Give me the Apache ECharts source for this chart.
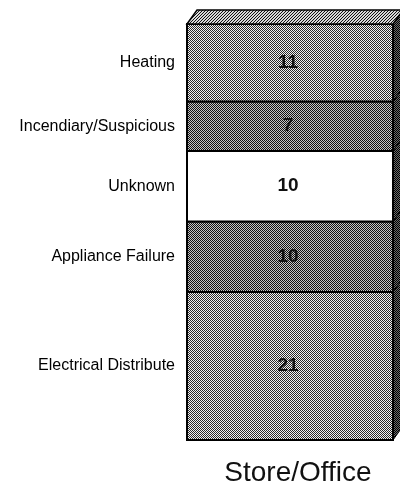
<!DOCTYPE html>
<html>
<head>
<meta charset="utf-8">
<script src="https://cdn.jsdelivr.net/npm/echarts@6/dist/echarts.min.js"></script>
<style>
  html, body { margin: 0; padding: 0; background: #fff; }
  #chart { width: 400px; height: 491px; }
</style>
</head>
<body>
<div id="chart"></div>
<script>
// bottom to top
var categories = ['Store/Office'];
var causes = ['Electrical Distribute', 'Appliance Failure', 'Unknown', 'Incendiary/Suspicious', 'Heating'];
var counts = [21, 10, 10, 7, 11];

// halftone tiles (two grays in a checker)
function dots(a, b) {
  var c = document.createElement('canvas');
  c.width = 2; c.height = 2;
  var g = c.getContext('2d');
  g.fillStyle = b; g.fillRect(0, 0, 2, 2);
  g.fillStyle = a; g.fillRect(0, 0, 1, 1); g.fillRect(1, 1, 1, 1);
  return { image: c, repeat: 'repeat' };
}
function hatch() {
  var c = document.createElement('canvas');
  c.width = 3; c.height = 3;
  var g = c.getContext('2d');
  g.fillStyle = '#d8d8d8'; g.fillRect(0, 0, 3, 3);
  g.fillStyle = '#111';
  g.fillRect(2, 0, 1, 1); g.fillRect(1, 1, 1, 1); g.fillRect(0, 2, 1, 1);
  return { image: c, repeat: 'repeat' };
}
var light = dots('#2a2a2a', '#f2f2f2');
var dark = dots('#111', '#c4c4c4');
var fills = [light, dark, '#fff', dark, light];
var sideFill = dots('#000', '#6a6a6a');
var topFill = hatch();

// stacked ranges
var segs = [];
var acc = 0;
for (var i = 0; i < counts.length; i++) {
  segs.push([0, acc, acc + counts[i]]);
  acc += counts[i];
}

var chart = echarts.init(document.getElementById('chart'));
chart.setOption({
  animation: false,
  grid: { left: 187, right: 7, top: 24, bottom: 51 },
  xAxis: {
    type: 'category',
    data: categories,
    axisLine: { show: false },
    axisTick: { show: false },
    axisLabel: {
      fontSize: 28,
      fontFamily: 'Liberation Sans',
      color: '#111',
      margin: 19,
      padding: [0, 0, 0, 16]
    }
  },
  yAxis: { type: 'value', min: 0, max: acc, show: false },
  series: [{
    type: 'custom',
    clip: false,
    data: segs,
    renderItem: function (params, api) {
      var i = params.dataIndex;
      var lo = api.coord([0, api.value(1)]);
      var hi = api.coord([0, api.value(2)]);
      var w = api.size([1, 0])[0];
      var x1 = lo[0] - w / 2, x2 = lo[0] + w / 2;
      var yB = lo[1], yT = hi[1];
      var dx = 10, dy = 14;
      var kids = [
        { type: 'polygon', shape: { points: [[x2, yT], [x2 + dx, yT - dy], [x2 + dx, yB - dy], [x2, yB]] },
          style: { fill: sideFill, stroke: '#000', lineWidth: 1 } },
        { type: 'rect', shape: { x: x1, y: yT, width: w, height: yB - yT },
          style: { fill: fills[i], stroke: '#000', lineWidth: 2 } },
        { type: 'text', x: lo[0] - 2, y: (yT + yB) / 2,
          style: { text: String(counts[i]), align: 'center', verticalAlign: 'middle',
                   font: 'bold 19px "Liberation Sans"', fill: '#111' } },
        { type: 'text', x: x1 - 12, y: (yT + yB) / 2,
          style: { text: causes[i], align: 'right', verticalAlign: 'middle',
                   font: '16px "Liberation Sans"', fill: '#000' } }
      ];
      if (i === counts.length - 1) {
        kids.push({ type: 'polygon', shape: { points: [[x1, yT], [x1 + dx, yT - dy], [x2 + dx, yT - dy], [x2, yT]] },
          style: { fill: topFill, stroke: '#000', lineWidth: 1.5 } });
      }
      return { type: 'group', children: kids };
    }
  }]
});
</script>
</body>
</html>
